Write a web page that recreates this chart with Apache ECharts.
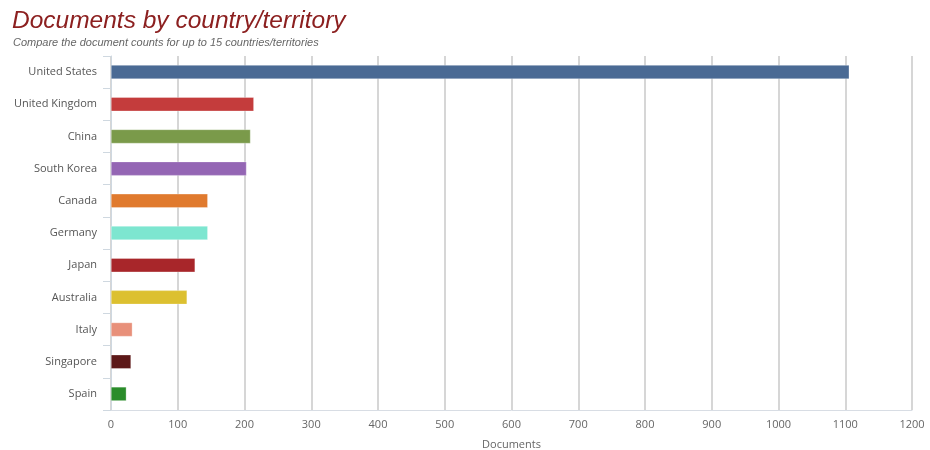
<!DOCTYPE html>
<html>
<head>
<meta charset="utf-8">
<script src="https://cdn.jsdelivr.net/npm/echarts@6/dist/echarts.min.js"></script>
<style>
html,body{margin:0;padding:0;background:#fff;}
#c{width:930px;height:450px;}
</style>
</head>
<body>
<div id="c"></div>
<script>
var categories = ["United States","United Kingdom","China","South Korea","Canada","Germany","Japan","Australia","Italy","Singapore","Spain"];
var values = [1106, 214, 209, 203, 145, 145, 126, 114, 32, 30, 23];
var colors = ["#4a6a94","#c43c3c","#7a9a4a","#9466b4","#e07a2e","#7de6d0","#a8262a","#dcc030","#e8907a","#5c1818","#2a8c2a"];
var xTicks = [0,100,200,300,400,500,600,700,800,900,1000,1100,1200];

var chart = echarts.init(document.getElementById('c'));
chart.setOption({
  animation: false,
  backgroundColor: '#ffffff',
  title: [{
    text: 'Documents by country/territory',
    left: 7, top: 4,
    textStyle: {fontFamily: 'Liberation Sans', fontStyle: 'italic', fontWeight: 'normal', fontSize: 24.5, color: '#8c2020'}
  },{
    text: 'Compare the document counts for up to 15 countries/territories',
    left: 8, top: 32,
    textStyle: {fontFamily: 'Liberation Sans', fontStyle: 'italic', fontWeight: 'normal', fontSize: 11, color: '#666'}
  }],
  grid: {left: 111, right: 18, top: 56, bottom: 40, containLabel: false, outerBoundsMode: 'none'},
  xAxis: {
    type: 'value', min: xTicks[0], max: xTicks[xTicks.length-1], interval: 100,
    name: 'Documents', nameLocation: 'middle', nameGap: 29,
    nameTextStyle: {fontFamily: 'Open Sans', fontSize: 11, color: '#666'},
    axisLine: {show: true, lineStyle: {color: '#d8dde4', width: 1}},
    axisTick: {show: false},
    axisLabel: {fontFamily: 'Open Sans', fontSize: 11, color: '#666', margin: 9,
      formatter: function(v){ return String(v); }},
    splitLine: {show: true, lineStyle: {color: '#c8c8c8', width: 1.5}}
  },
  yAxis: {
    type: 'category', data: categories, inverse: true,
    axisLine: {show: true, lineStyle: {color: '#cfd8e0', width: 1}},
    axisTick: {show: true, length: 8, lineStyle: {color: '#cfd8e0'}},
    axisLabel: {fontFamily: 'Open Sans', fontSize: 11, color: '#555', margin: 14},
    splitLine: {show: false}
  },
  series: [{
    type: 'bar',
    data: values.map(function(v, i){ return {value: v, itemStyle: {color: colors[i]}}; }),
    barWidth: 14,
    itemStyle: {borderColor: 'rgba(255,255,255,0.6)', borderWidth: 0.5}
  }]
});
</script>
</body>
</html>
